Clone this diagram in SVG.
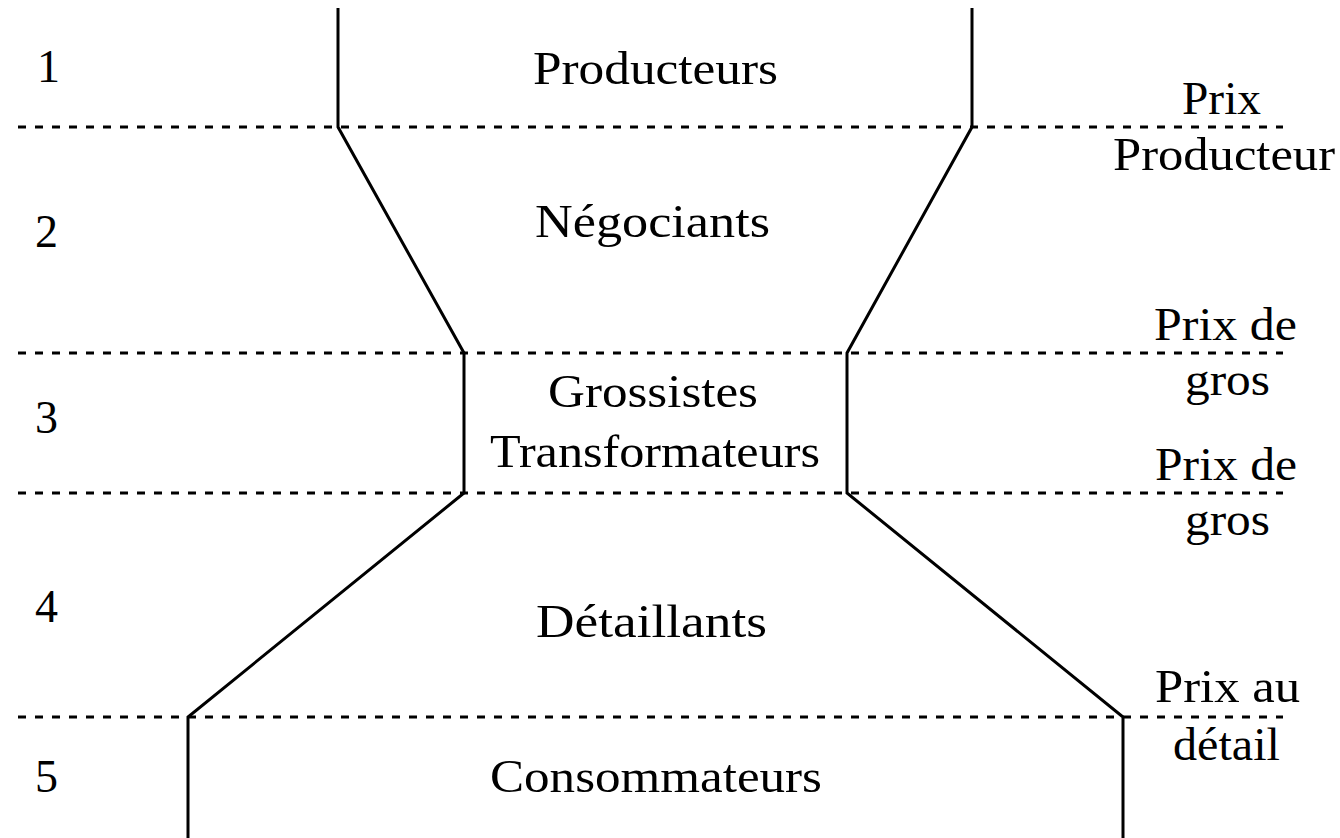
<svg xmlns="http://www.w3.org/2000/svg" width="1340" height="838" viewBox="0 0 1340 838">
<style>
text{font-family:"Liberation Serif","Times New Roman",serif;font-size:46px;fill:#000}
.dash{stroke:#000;stroke-width:3;stroke-dasharray:8 9;fill:none}
.wall{stroke:#000;stroke-width:3;fill:none}
</style>
<rect width="1340" height="838" fill="#fff"/>
<g id="connectors">
<line class="dash" x1="18" y1="127" x2="1283" y2="127"/>
<line class="dash" x1="18" y1="353" x2="1283" y2="353"/>
<line class="dash" x1="18" y1="493" x2="1283" y2="493"/>
<line class="dash" x1="18" y1="717" x2="1283" y2="717"/>
<polyline class="wall" points="338,8 338,127 464,353 464,493 188,717 188,838"/>
<polyline class="wall" points="972,8 972,127 847,353 847,493 1123,717 1123,838"/>
</g>
<g id="levels">
<text x="37" y="82">1</text>
<text x="35" y="247">2</text>
<text x="35" y="433">3</text>
<text x="35" y="622">4</text>
<text x="35" y="792">5</text>
</g>
<g id="producteurs"><text x="533" y="84" textLength="245" lengthAdjust="spacingAndGlyphs">Producteurs</text></g>
<g id="negociants"><text x="535" y="237" textLength="235" lengthAdjust="spacingAndGlyphs">Négociants</text></g>
<g id="grossistes">
<text x="548" y="407" textLength="210" lengthAdjust="spacingAndGlyphs">Grossistes</text>
<text x="490" y="467" textLength="330" lengthAdjust="spacingAndGlyphs">Transformateurs</text>
</g>
<g id="detaillants"><text x="536" y="637" textLength="231" lengthAdjust="spacingAndGlyphs">Détaillants</text></g>
<g id="consommateurs"><text x="490" y="792" textLength="332" lengthAdjust="spacingAndGlyphs">Consommateurs</text></g>
<g id="prix-producteur">
<text x="1182" y="114" textLength="79" lengthAdjust="spacingAndGlyphs">Prix</text>
<text x="1113" y="170" textLength="222" lengthAdjust="spacingAndGlyphs">Producteur</text>
</g>
<g id="prix-gros-1">
<text x="1154" y="340" textLength="143" lengthAdjust="spacingAndGlyphs">Prix de</text>
<text x="1185" y="395" textLength="85" lengthAdjust="spacingAndGlyphs">gros</text>
</g>
<g id="prix-gros-2">
<text x="1155" y="480" textLength="142" lengthAdjust="spacingAndGlyphs">Prix de</text>
<text x="1185" y="535" textLength="85" lengthAdjust="spacingAndGlyphs">gros</text>
</g>
<g id="prix-detail">
<text x="1155" y="702" textLength="145" lengthAdjust="spacingAndGlyphs">Prix au</text>
<text x="1173" y="760" textLength="107" lengthAdjust="spacingAndGlyphs">détail</text>
</g>
</svg>
